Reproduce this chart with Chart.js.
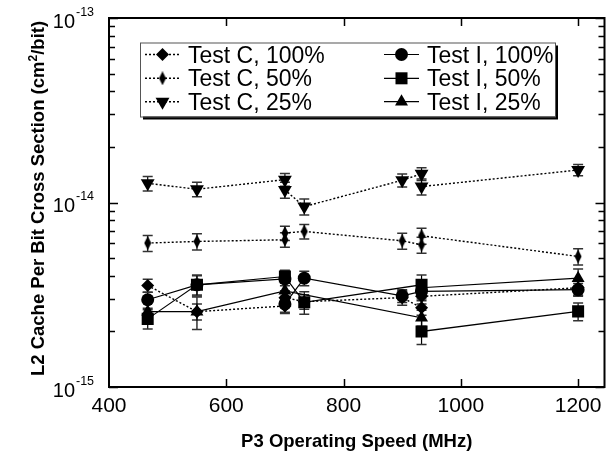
<!DOCTYPE html>
<html>
<head>
<meta charset="utf-8">
<script src="https://cdn.jsdelivr.net/npm/chart.js@4.4.1/dist/chart.umd.min.js"></script>
<style>
  html, body { margin: 0; padding: 0; background: #fff; }
  #wrap { width: 613px; height: 457px; position: relative; }
</style>
</head>
<body>
<div id="wrap"><canvas id="chart"></canvas></div>
<script>
// P3 speeds (MHz) per measurement, in the order the lines join them
const xTestC = [466, 550, 700, 700, 733, 900, 933, 933, 1200];
const xTestI100 = [466, 550, 700, 700, 733, 900, 933, 1200];
const xTestI50 = [466, 550, 700, 733, 933, 933, 1200];
const xTestI25 = [466, 550, 700, 933, 933, 1200];

// cross sections (cm^2/bit)
const testC100 = [3.55e-15, 2.56e-15, 2.75e-15, 3.05e-15, 2.90e-15, 3.05e-15, 2.69e-15, 3.10e-15, 3.45e-15];
const testC50 = [6.03e-15, 6.15e-15, 6.28e-15, 6.83e-15, 6.97e-15, 6.20e-15, 5.90e-15, 6.60e-15, 5.10e-15];
const testC25 = [1.27e-14, 1.18e-14, 1.33e-14, 1.17e-14, 0.95e-14, 1.32e-14, 1.43e-14, 1.22e-14, 1.50e-14];
const testI100 = [2.97e-15, 3.58e-15, 3.85e-15, 2.82e-15, 3.89e-15, 3.12e-15, 3.30e-15, 3.37e-15];
const testI50 = [2.34e-15, 3.58e-15, 3.97e-15, 2.88e-15, 3.58e-15, 2.00e-15, 2.57e-15];
const testI25 = [2.56e-15, 2.56e-15, 3.32e-15, 2.37e-15, 3.45e-15, 3.89e-15];

// relative errors (fraction of value)
const errC100 = [0.08, 0.10, 0.09, 0.09, 0.09, 0.09, 0.09, 0.09, 0.09];
const errC50 = [0.10, 0.10, 0.09, 0.09, 0.09, 0.10, 0.10, 0.10, 0.10];
const errC25 = [0.09, 0.09, 0.08, 0.10, 0.10, 0.08, 0.08, 0.10, 0.07];
const errI100 = [0.10, 0.12, 0.08, 0.10, 0.09, 0.08, 0.09, 0.08];
const errI50 = [0.12, 0.13, 0.08, 0.14, 0.13, 0.15, 0.11];
const errI25 = [0.12, 0.20, 0.10, 0.10, 0.10, 0.12];

const xTicks = [400, 600, 800, 1000, 1200];
const yMajor = [1e-15, 1e-14, 1e-13];
const yExps = ['-15', '-14', '-13'];
const yMinorMant = [2, 3, 4, 5, 6, 7, 8, 9];

const FONT = '"Liberation Sans", Arial, Helvetica, sans-serif';

// narrow diamond marker for Test C, 50%
function thinDiamond() {
  const c = document.createElement('canvas');
  c.width = 8; c.height = 14;
  const g = c.getContext('2d');
  g.fillStyle = '#000';
  g.beginPath();
  g.moveTo(4, 0); g.lineTo(7.5, 7); g.lineTo(4, 14); g.lineTo(0.5, 7);
  g.closePath(); g.fill();
  return c;
}

function pts(xs, ys) {
  return xs.map((x, i) => ({ x: x, y: ys[i] }));
}

function series(label, xs, ys, errs, style, dotted) {
  return {
    label: label,
    data: pts(xs, ys),
    errs: errs,
    borderColor: '#000',
    backgroundColor: '#000',
    borderWidth: dotted ? 1.4 : 1.2,
    borderDash: dotted ? [2, 2] : [],
    pointBackgroundColor: '#000',
    pointBorderColor: '#000',
    pointBorderWidth: 0,
    tension: 0,
    ...style
  };
}

const datasets = [
  series('Test C, 100%', xTestC, testC100, errC100, { pointStyle: 'rectRot', pointRadius: 6.5 }, true),
  series('Test C, 50%', xTestC, testC50, errC50, { pointStyle: thinDiamond(), pointRadius: 6 }, true),
  series('Test C, 25%', xTestC, testC25, errC25, { pointStyle: 'triangle', pointRadius: 8, pointRotation: 180 }, true),
  series('Test I, 100%', xTestI100, testI100, errI100, { pointStyle: 'circle', pointRadius: 6.5 }, false),
  series('Test I, 50%', xTestI50, testI50, errI50, { pointStyle: 'rect', pointRadius: 8.5 }, false),
  series('Test I, 25%', xTestI25, testI25, errI25, { pointStyle: 'triangle', pointRadius: 7.5 }, false)
];

const errorBars = {
  id: 'errorBars',
  beforeDatasetsDraw(chart) {
    const ctx = chart.ctx, xs = chart.scales.x, ys = chart.scales.y;
    ctx.save();
    chart.data.datasets.forEach(ds => {
      ds.data.forEach((p, i) => {
        const e = ds.errs[i];
        const px = xs.getPixelForValue(p.x);
        const top = ys.getPixelForValue(p.y * (1 + e));
        const bot = ys.getPixelForValue(p.y * (1 - e));
        ctx.strokeStyle = '#000';
        ctx.lineWidth = 1.2;
        ctx.beginPath();
        ctx.moveTo(px, top); ctx.lineTo(px, bot);
        ctx.stroke();
        ctx.strokeStyle = '#333';
        ctx.lineWidth = 1.5;
        ctx.beginPath();
        ctx.moveTo(px - 5, top); ctx.lineTo(px + 5, top);
        ctx.moveTo(px - 5, bot); ctx.lineTo(px + 5, bot);
        ctx.stroke();
      });
    });
    ctx.restore();
  }
};

const frameAndText = {
  id: 'frameAndText',
  afterDraw(chart) {
    const ctx = chart.ctx, a = chart.chartArea;
    const xs = chart.scales.x, ys = chart.scales.y;
    ctx.save();
    ctx.strokeStyle = '#000';
    ctx.lineWidth = 2;
    ctx.strokeRect(a.left, a.top, a.right - a.left, a.bottom - a.top);

    // x ticks, inward on bottom and top
    ctx.lineWidth = 1.5;
    ctx.beginPath();
    xTicks.forEach(v => {
      const px = Math.round(xs.getPixelForValue(v)) + 0.5;
      if (px <= a.left + 2) return;
      ctx.moveTo(px, a.bottom); ctx.lineTo(px, a.bottom - 8);
      ctx.moveTo(px, a.top); ctx.lineTo(px, a.top + 8);
    });
    // y ticks, inward on left and right
    for (let d = 0; d < yMajor.length; d++) {
      const py = Math.round(ys.getPixelForValue(yMajor[d])) + 0.5;
      ctx.moveTo(a.left, py); ctx.lineTo(a.left + 9, py);
      ctx.moveTo(a.right, py); ctx.lineTo(a.right - 9, py);
      if (d < yMajor.length - 1) {
        yMinorMant.forEach(m => {
          const q = Math.round(ys.getPixelForValue(yMajor[d] * m)) + 0.5;
          ctx.moveTo(a.left, q); ctx.lineTo(a.left + 6, q);
          ctx.moveTo(a.right, q); ctx.lineTo(a.right - 6, q);
        });
      }
    }
    ctx.stroke();

    ctx.fillStyle = '#000';
    // x tick labels
    ctx.font = '21px ' + FONT;
    ctx.textAlign = 'center';
    ctx.textBaseline = 'alphabetic';
    xTicks.forEach(v => {
      ctx.fillText(String(v), xs.getPixelForValue(v), a.bottom + 25);
    });

    // y tick labels 10^n
    yMajor.forEach((v, i) => {
      const py = ys.getPixelForValue(v);
      ctx.font = '20px ' + FONT;
      ctx.textAlign = 'right';
      ctx.fillText('10', 75, py + 9.5);
      ctx.font = '12.5px ' + FONT;
      ctx.textAlign = 'left';
      ctx.fillText(yExps[i], 76, py - 2.5);
    });

    // x title
    ctx.font = 'bold 18.5px ' + FONT;
    ctx.textAlign = 'center';
    ctx.fillText('P3 Operating Speed (MHz)', (a.left + a.right) / 2, 447);

    // y title with superscript
    ctx.save();
    ctx.translate(44, 198.5);
    ctx.rotate(-Math.PI / 2);
    const t1 = 'L2 Cache Per Bit Cross Section (cm', t2 = '2', t3 = '/bit)';
    const big = 'bold 18.5px ' + FONT, small = 'bold 12px ' + FONT;
    ctx.font = big; const w1 = ctx.measureText(t1).width, w3 = ctx.measureText(t3).width;
    ctx.font = small; const w2 = ctx.measureText(t2).width;
    let x0 = -(w1 + w2 + w3) / 2;
    ctx.textAlign = 'left';
    ctx.font = big; ctx.fillText(t1, x0, 0);
    ctx.font = small; ctx.fillText(t2, x0 + w1, -7);
    ctx.font = big; ctx.fillText(t3, x0 + w1 + w2, 0);
    ctx.restore();

    // legend
    const bx = 140, by = 42.5, bw = 415, bh = 74;
    ctx.fillStyle = '#000';
    ctx.fillRect(bx + 3, by + 3, bw, bh);
    ctx.fillStyle = '#fff';
    ctx.fillRect(bx, by, bw, bh);
    ctx.strokeStyle = '#555';
    ctx.lineWidth = 1;
    ctx.strokeRect(bx + 0.5, by + 0.5, bw, bh);
    const rowsY = [54.5, 78.3, 101.7];
    const colX = [145, 384];
    chart.data.datasets.forEach((ds, i) => {
      const col = i < 3 ? 0 : 1, row = i % 3;
      const lx = colX[col], ly = rowsY[row];
      ctx.strokeStyle = '#000';
      ctx.lineWidth = ds.borderWidth;
      ctx.setLineDash(ds.borderDash);
      ctx.beginPath();
      ctx.moveTo(lx, ly); ctx.lineTo(lx + 35, ly);
      ctx.stroke();
      ctx.setLineDash([]);
      ctx.fillStyle = '#000';
      Chart.helpers.drawPoint(ctx, {
        pointStyle: ds.pointStyle, radius: ds.pointRadius,
        rotation: ds.pointRotation || 0, borderWidth: 0
      }, lx + 17.5, ly);
      ctx.font = '23px ' + FONT;
      ctx.textAlign = 'left';
      ctx.textBaseline = 'alphabetic';
      ctx.fillText(ds.label, lx + 43, ly + 8);
    });
    ctx.restore();
  }
};

new Chart(document.getElementById('chart'), {
  type: 'line',
  data: { datasets: datasets },
  options: {
    responsive: true,
    maintainAspectRatio: false,
    animation: false,
    layout: { padding: { left: 109, right: 3, top: 18, bottom: 70 } },
    plugins: { legend: { display: false }, tooltip: { enabled: false } },
    scales: {
      x: { type: 'linear', min: 400, max: 1245, display: false },
      y: { type: 'logarithmic', min: 1e-15, max: 1e-13, display: false }
    }
  },
  plugins: [errorBars, frameAndText]
});
</script>
</body>
</html>
